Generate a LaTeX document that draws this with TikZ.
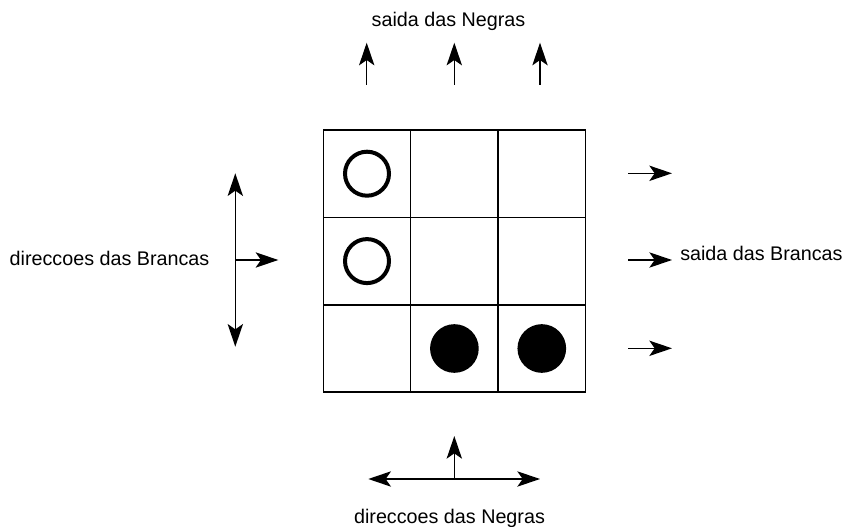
\documentclass[tikz,border=0pt]{standalone}
\usepackage{fontspec}
\setmainfont{Liberation Sans}
\usetikzlibrary{arrows.meta}
\begin{document}
\begin{tikzpicture}[x=0.75pt,y=-0.75pt,
  cell/.style={draw,line width=1.1pt,minimum size=65.55pt,inner sep=0pt,outer sep=0pt},
  whitestone/.style={circle,draw,line width=3pt,minimum size=33pt,inner sep=0pt},
  blackstone/.style={circle,fill=black,minimum size=36.5pt,inner sep=0pt},
  lbl/.style={font=\fontsize{14.8}{17}\selectfont,inner sep=0pt},
  tipx/.tip={Stealth[length=17pt,width=11.5pt,inset=4pt]},
  arr/.style={line width=1.1pt,-tipx},
  darr/.style={line width=1.1pt,tipx-tipx}]
\useasboundingbox (0,0) rectangle (846,527);
% grid cells
\foreach \r in {1,2,3}{
  \foreach \c in {1,2,3}{
    \node[cell] (c\r\c) at ({323.3+87.4*(\c-0.5)},{130+87.4*(\r-0.5)}) {};
  }
}
% stones
\node[whitestone] (w1) at (c11) {};
\node[whitestone] (w2) at (c21) {};
\node[blackstone] (b1) at (c32) {};
\node[blackstone] (b2) at (c33) {};
% labels
\node[lbl,anchor=base] (topl) at (448.5,26.7) {saida das Negras};
\node[lbl,anchor=base] (leftl) at (109.5,266) {direccoes das Brancas};
\node[lbl,anchor=base west] (rightl) at (680,261) {saida das Brancas};
\node[lbl,anchor=base] (botl) at (449.5,523.3) {direccoes das Negras};
% top exit arrows
\coordinate (u1s) at (366.7,85); \coordinate (u1e) at (366.7,42.7);
\coordinate (u2s) at (454.3,85); \coordinate (u2e) at (454.3,42.7);
\coordinate (u3s) at (540,85);   \coordinate (u3e) at (540,42.7);
\draw[arr] (u1s) -- (u1e);
\draw[arr] (u2s) -- (u2e);
\draw[arr] (u3s) -- (u3e);
% right exit arrows
\coordinate (r1s) at (628.3,173.3); \coordinate (r1e) at (672,173.3);
\coordinate (r2s) at (628.3,260);   \coordinate (r2e) at (672,260);
\coordinate (r3s) at (628.3,348.3); \coordinate (r3e) at (672,348.3);
\draw[arr] (r1s) -- (r1e);
\draw[arr] (r2s) -- (r2e);
\draw[arr] (r3s) -- (r3e);
% left direction arrows (Brancas)
\coordinate (lt) at (235.3,173.3);
\coordinate (lb) at (235.3,346.7);
\coordinate (lc) at (235.3,260);
\coordinate (lr) at (278.3,260);
\draw[darr] (lt) -- (lb);
\draw[arr] (lc) -- (lr);
% bottom direction arrows (Negras)
\coordinate (bl) at (368.3,479);
\coordinate (br) at (540,479);
\coordinate (bc) at (454.3,479);
\coordinate (bu) at (454.3,436);
\draw[darr] (bl) -- (br);
\draw[arr] (bc) -- (bu);
\end{tikzpicture}
\end{document}
